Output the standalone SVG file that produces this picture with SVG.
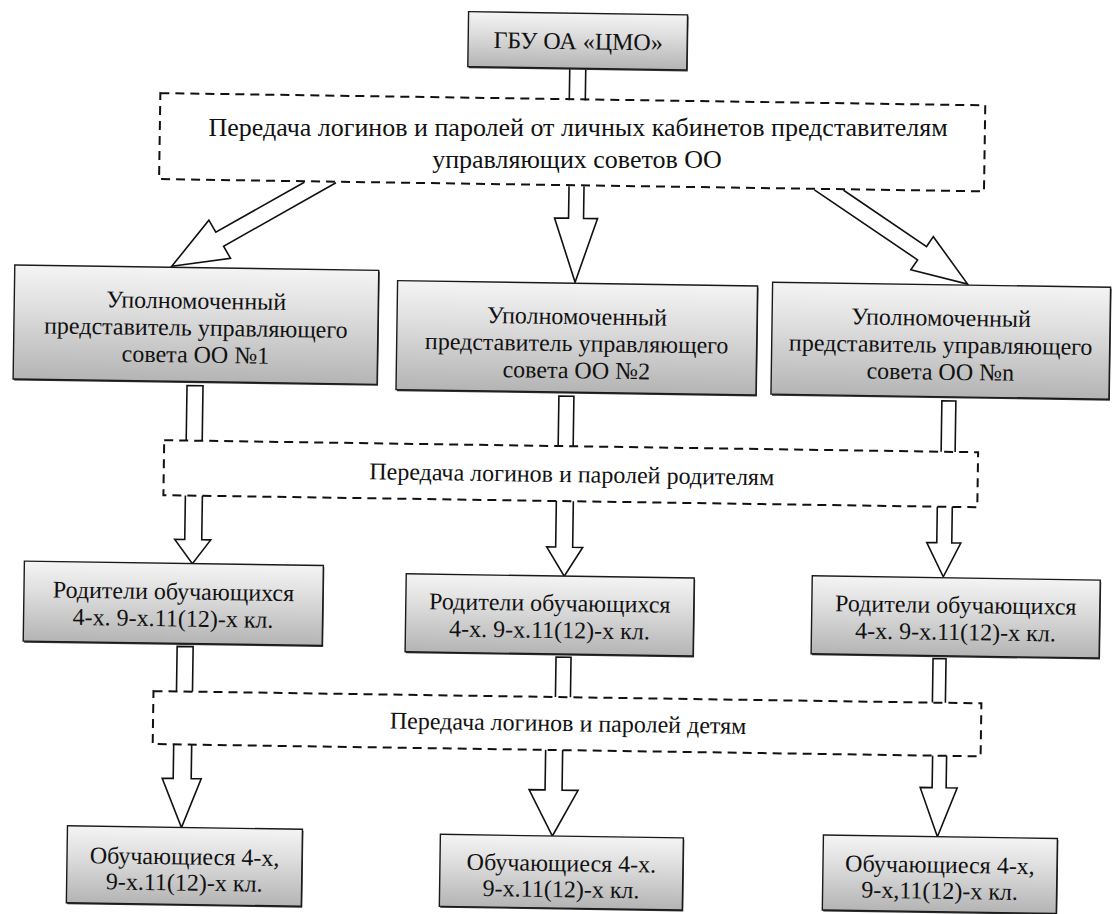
<svg xmlns="http://www.w3.org/2000/svg" width="1112" height="914" viewBox="0 0 1112 914">
<defs>
<linearGradient id="g" x1="0" y1="0" x2="0" y2="1">
<stop offset="0" stop-color="#f4f4f4"/>
<stop offset="0.35" stop-color="#e0e0e0"/>
<stop offset="1" stop-color="#b4b4b4"/>
</linearGradient>
<style>
.box{fill:url(#g);stroke:#1a1a1a;stroke-width:1.4}
.sh{fill:#333}
.dash{fill:none;stroke:#111;stroke-width:2;stroke-dasharray:9 6}
.arr{fill:#fff;stroke:#111;stroke-width:1.6;stroke-linejoin:miter}
.t{font-family:Liberation Serif, serif;font-size:24px;fill:#111;text-anchor:middle}
.big{font-size:26px}
</style>
</defs>
<rect width="1112" height="914" fill="#fff"/>
<g transform="rotate(0.85 556 457)" font-family="Liberation Serif, serif">
<g id="connectors">
<path class="arr" d="M564,68 V100 M580,68 V100"/>
<path class="arr" d="M300.3,186 L212.5,237.3 L205.4,225.3 L169,272 L227.6,263.2 L220.5,251.2 L331.9,186"/>
<path class="arr" d="M565,186 V218 H551 L572.5,282 L594,218 H580 V186"/>
<path class="arr" d="M810.4,186 L914.6,254.5 L908,264.5 L965,278 L930,231.1 L923.4,241.1 L839.6,186"/>
<path class="arr" d="M186,446 V391 H202 V446"/>
<path class="arr" d="M558,446 V396 H573 V446"/>
<path class="arr" d="M941,446 V395 H955 V446"/>
<path class="arr" d="M186,501 V545 H176 L194,569 L212,545 H203 V501"/>
<path class="arr" d="M557,501 V547 H548 L566,576 L584,547 H574 V501"/>
<path class="arr" d="M938,501 V537 H928 L945,571 L962,537 H953 V501"/>
<path class="arr" d="M180,697 V652 H196 V697"/>
<path class="arr" d="M559,697 V657 H574 V697"/>
<path class="arr" d="M936,697 V653 H949 V697"/>
<path class="arr" d="M178,750 V784 H167 L187,833 L206,784 H196 V750"/>
<path class="arr" d="M550,750 V790 H534 L558,836 L583,790 H567 V750"/>
<path class="arr" d="M937,750 V782 H925 L943,831 L962,782 H951 V750"/>
</g>
<g id="n-top">
<rect class="sh" x="463" y="14.5" width="219" height="55"/>
<rect class="box" x="462" y="13" width="219" height="55"/>
<text class="t" x="572" y="49">ГБУ ОА «ЦМО»</text>
</g>
<g id="n-rep1">
<rect class="sh" x="13" y="274.5" width="364" height="114"/>
<rect class="box" x="12" y="273" width="364" height="114"/>
<text class="t" x="194" y="314">Уполномоченный</text>
<text class="t" x="194" y="341">представитель управляющего</text>
<text class="t" x="194" y="368">совета ОО №1</text>
</g>
<g id="n-rep2">
<rect class="sh" x="396" y="284.5" width="360" height="109"/>
<rect class="box" x="395" y="283" width="360" height="109"/>
<text class="t" x="575" y="324">Уполномоченный</text>
<text class="t" x="575" y="351">представитель управляющего</text>
<text class="t" x="575" y="378">совета ОО №2</text>
</g>
<g id="n-repn">
<rect class="sh" x="771" y="280.5" width="338" height="112"/>
<rect class="box" x="770" y="279" width="338" height="112"/>
<text class="t" x="939" y="320">Уполномоченный</text>
<text class="t" x="939" y="347">представитель управляющего</text>
<text class="t" x="939" y="374">совета ОО №n</text>
</g>
<g id="n-transfer2">
<rect class="dash" x="164" y="446" width="814" height="55"/>
<text class="t" x="572" y="482">Передача логинов и паролей родителям</text>
</g>
<g id="n-par1">
<rect class="sh" x="27" y="570.5" width="299" height="80"/>
<rect class="box" x="26" y="569" width="299" height="80"/>
<text class="t" x="175.5" y="605">Родители обучающихся</text>
<text class="t" x="175.5" y="632">4-х. 9-х.11(12)-х кл.</text>
</g>
<g id="n-par2">
<rect class="sh" x="409" y="577.5" width="288" height="78"/>
<rect class="box" x="408" y="576" width="288" height="78"/>
<text class="t" x="552" y="611">Родители обучающихся</text>
<text class="t" x="552" y="638">4-х. 9-х.11(12)-х кл.</text>
</g>
<g id="n-parn">
<rect class="sh" x="815" y="573.5" width="288" height="78"/>
<rect class="box" x="814" y="572" width="288" height="78"/>
<text class="t" x="958" y="607">Родители обучающихся</text>
<text class="t" x="958" y="634">4-х. 9-х.11(12)-х кл.</text>
</g>
<g id="n-transfer3">
<rect class="dash" x="157" y="697" width="828" height="53"/>
<text class="t" x="572" y="731">Передача логинов и паролей детям</text>
</g>
<g id="n-st1">
<rect class="sh" x="74" y="834.5" width="235" height="77"/>
<rect class="box" x="73" y="833" width="235" height="77"/>
<text class="t" x="190.5" y="870">Обучающиеся 4-х,</text>
<text class="t" x="190.5" y="896">9-х.11(12)-х кл.</text>
</g>
<g id="n-st2">
<rect class="sh" x="447" y="837.5" width="243" height="72"/>
<rect class="box" x="446" y="836" width="243" height="72"/>
<text class="t" x="567.5" y="871">Обучающиеся 4-х.</text>
<text class="t" x="567.5" y="897">9-х.11(12)-х кл.</text>
</g>
<g id="n-stn">
<rect class="sh" x="830" y="832.5" width="234" height="75"/>
<rect class="box" x="829" y="831" width="234" height="75"/>
<text class="t" x="946" y="867">Обучающиеся 4-х,</text>
<text class="t" x="946" y="893">9-х,11(12)-х кл.</text>
</g>
</g>
<g id="n-transfer1">
<rect class="dash" x="155" y="99" width="825" height="86" transform="rotate(0.85 556 457)"/>
<text class="t big" x="578" y="136">Передача логинов и паролей от личных кабинетов представителям</text>
<text class="t big" x="577" y="168">управляющих советов ОО</text>
</g>
</svg>
